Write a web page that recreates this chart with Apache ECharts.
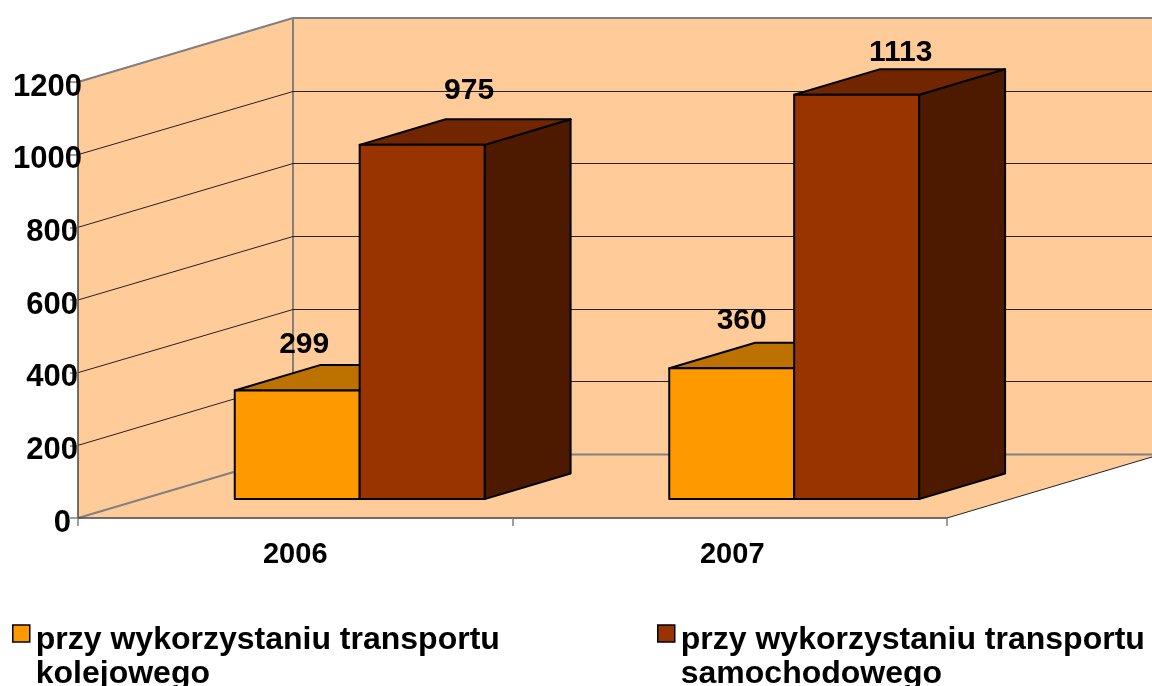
<!DOCTYPE html>
<html>
<head>
<meta charset="utf-8">
<style>
  html, body { margin: 0; padding: 0; background: #fff; overflow: hidden; }
  #chartBox { width: 1152px; height: 686px; }
</style>
<script src="https://cdn.jsdelivr.net/npm/echarts@6/dist/echarts.min.js"></script>
</head>
<body>
<div id="chartBox"></div>
<script>
const categories = ["2006", "2007"];
const yTicks = [0, 200, 400, 600, 800, 1000, 1200];
const railName = "przy wykorzystaniu transportu\nkolejowego";
const roadName = "przy wykorzystaniu transportu\nsamochodowego";
const railValues = [299, 360];
const roadValues = [975, 1113];

const FONT = '"Liberation Sans", Arial, sans-serif';

// the fake 3d box: how far the back wall sits from the front plane
const DEPTH_X = 215;
const DEPTH_Y = -64;
// bars stand inside that depth
const BAR_START = 0.295;
const BAR_DEPTH = 0.4;
const BAR_WIDTH = 0.2875; // share of one category band

// data labels do not sit at the same place on each bar in the original
const labelShift = [
  [[7, -46], [10, -48]],
  [[47, -54], [44, -42]],
];

function poly(points, fill, stroke, width) {
  return {
    type: "polygon",
    shape: { points: points },
    style: { fill: fill, stroke: stroke, lineWidth: width || 0, lineJoin: "round" },
  };
}

function line(a, b, color, width) {
  return {
    type: "line",
    shape: { x1: a[0], y1: a[1], x2: b[0], y2: b[1] },
    style: { stroke: color, lineWidth: width, fill: null },
  };
}

function back(p, f) {
  return [p[0] + DEPTH_X * f, p[1] + DEPTH_Y * f];
}

// walls and floor
function renderWalls(params, api) {
  const band = api.size([1, 0])[0];
  const bl = api.coord([0, 0]);
  const tl = api.coord([0, 1200]);
  bl[0] -= band / 2;
  tl[0] -= band / 2;
  const br = [bl[0] + band * categories.length, bl[1]];
  const tr = [br[0], tl[1]];
  const wall = "#FFCC99";
  return {
    type: "group",
    children: [
      poly([bl, tl, back(tl, 1), back(bl, 1)], wall),
      poly([back(bl, 1), back(tl, 1), back(tr, 1), back(br, 1)], wall),
      poly([bl, back(bl, 1), back(br, 1), br], wall),
      line(tl, back(tl, 1), "#808080", 2),
      line(back(tl, 1), back(tr, 1), "#808080", 2),
      line(back(tl, 1), back(bl, 1), "#808080", 2),
      line(br, back(br, 1), "#222", 1),
    ],
  };
}

// one gridline per tick, along the side wall and then the back wall
function renderGrid(params, api) {
  const value = api.value(1);
  if (value === 1200) return null;
  const band = api.size([1, 0])[0];
  const a = api.coord([0, value]);
  a[0] -= band / 2;
  const b = back(a, 1);
  // keep the long horizontal part crisp
  b[1] = Math.round(b[1]) + 0.5;
  const c = [b[0] + band * categories.length, b[1]];
  const color = value === 0 ? "#808080" : "#222";
  const width = value === 0 ? 2 : 1;
  return {
    type: "group",
    children: [line(a, b, color, width), line(b, c, color, width)],
  };
}

function barRenderer(seriesNo, front, top, side) {
  return function (params, api) {
    const cat = api.value(0);
    const value = api.value(1);
    const band = api.size([1, 0])[0];
    const w = band * BAR_WIDTH;
    const base = api.coord([cat, 0]);
    const head = api.coord([cat, value]);
    const x0 = base[0] + 1 - w + seriesNo * w;
    // front corners pushed into the depth
    const fb0 = back([x0, base[1]], BAR_START);
    const fb1 = back([x0 + w, base[1]], BAR_START);
    const ft0 = back([x0, head[1]], BAR_START);
    const ft1 = back([x0 + w, head[1]], BAR_START);
    const dx = DEPTH_X * BAR_DEPTH;
    const dy = DEPTH_Y * BAR_DEPTH;
    const shift = labelShift[seriesNo][cat];
    return {
      type: "group",
      children: [
        poly([ft1, fb1, [fb1[0] + dx, fb1[1] + dy], [ft1[0] + dx, ft1[1] + dy]], side, "#000", 2),
        poly([ft0, ft1, [ft1[0] + dx, ft1[1] + dy], [ft0[0] + dx, ft0[1] + dy]], top, "#000", 2),
        poly([ft0, ft1, fb1, fb0], front, "#000", 2),
        {
          type: "text",
          z2: 10,
          style: {
            text: String(value),
            x: (ft0[0] + ft1[0]) / 2 + shift[0],
            y: ft0[1] + shift[1],
            align: "center",
            verticalAlign: "middle",
            fill: "#000",
            font: "bold 30px " + FONT,
          },
        },
      ],
    };
  };
}

// square on the first text line, the empty lower part only keeps the icon box tall
const legendIcon = "path://M0 0H17V17H0Z M0 64L0.01 64";

function legendFor(name, color, left) {
  return {
    left: left,
    top: 623,
    padding: 0,
    orient: "horizontal",
    selectedMode: false,
    icon: legendIcon,
    itemWidth: 17,
    itemHeight: 64,
    data: [{ name: name, itemStyle: { color: color, borderColor: "#000", borderWidth: 1.5 } }],
    textStyle: {
      color: "#000",
      fontFamily: FONT,
      fontWeight: "bold",
      fontSize: 32,
      lineHeight: 34,
      padding: [0, 0, 0, 1],
    },
  };
}

const myChart = echarts.init(document.getElementById("chartBox"), null, { renderer: "canvas" });

const echartOption = {
  animation: false,
  backgroundColor: "#fff",
  grid: { left: 78, right: 205, top: 82, bottom: 168, containLabel: false },
  legend: [
    legendFor(railName, "#FF9900", 12),
    legendFor(roadName, "#993300", 657),
  ],
  xAxis: {
    type: "category",
    data: categories,
    z: 5,
    axisLine: { lineStyle: { color: "#444", width: 1.5 } },
    axisTick: { show: true, length: 8, lineStyle: { color: "#808080", width: 1.5 } },
    axisLabel: {
      color: "#000",
      margin: 22,
      formatter: function (v, i) {
        return i === 1 ? "{r|" + v + "}" : "{l|" + v + "}";
      },
      rich: {
        l: { fontFamily: FONT, fontWeight: "bold", fontSize: 29 },
        r: { fontFamily: FONT, fontWeight: "bold", fontSize: 29, padding: [0, 0, 0, 5] },
      },
    },
  },
  yAxis: {
    type: "value",
    min: 0,
    max: 1200,
    interval: 200,
    z: 5,
    splitLine: { show: false },
    axisLine: { show: true, lineStyle: { color: "#444", width: 1.5 } },
    axisTick: { show: true, length: 8, lineStyle: { color: "#808080", width: 1.5 } },
    axisLabel: {
      color: "#000",
      margin: -4,
      formatter: function (v) {
        if (v === 0) return "{c|" + v + "}";
        return v >= 1000 ? "{a|" + v + "}" : "{b|" + v + "}";
      },
      rich: {
        a: { fontFamily: FONT, fontWeight: "bold", fontSize: 31, padding: [10, 0, 0, 0] },
        b: { fontFamily: FONT, fontWeight: "bold", fontSize: 31, padding: [10, 4, 0, 0] },
        c: { fontFamily: FONT, fontWeight: "bold", fontSize: 31, padding: [10, 11, 0, 0] },
      },
    },
  },
  series: [
    {
      type: "custom",
      name: "walls",
      silent: true,
      z: 1,
      renderItem: renderWalls,
      data: [[0, 0]],
      encode: { x: 0, y: 1 },
    },
    {
      type: "custom",
      name: "gridlines",
      silent: true,
      z: 2,
      renderItem: renderGrid,
      data: yTicks.map((t) => [0, t]),
      encode: { x: 0, y: 1 },
    },
    {
      type: "custom",
      name: railName,
      z: 3,
      itemStyle: { color: "#FF9900" },
      renderItem: barRenderer(0, "#FF9900", "#BD7200", "#7F4C00"),
      data: railValues.map((v, i) => [i, v]),
      encode: { x: 0, y: 1 },
    },
    {
      type: "custom",
      name: roadName,
      z: 4,
      itemStyle: { color: "#993300" },
      renderItem: barRenderer(1, "#993300", "#712600", "#4D1A00"),
      data: roadValues.map((v, i) => [i, v]),
      encode: { x: 0, y: 1 },
    },
  ],
};

myChart.setOption(echartOption);
</script>
</body>
</html>
